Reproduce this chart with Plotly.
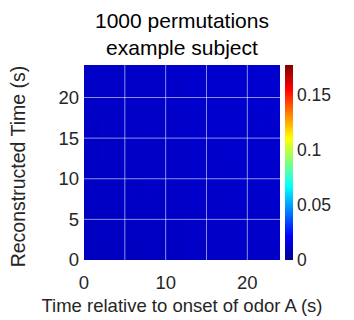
import plotly.graph_objects as go

# ---- data ----
title_lines = ["1000 permutations", "example subject"]
x_label = "Time relative to onset of odor A (s)"
y_label = "Reconstructed Time (s)"

time_bins = [0.5 + i for i in range(24)]  # bin centres (s)
x_tick_vals = [0, 5, 10, 15, 20]
x_tick_text = ["0", "", "10", "", "20"]
y_tick_vals = [0, 5, 10, 15, 20]
y_tick_text = ["0", "5", "10", "15", "20"]
grid_vals = [5, 10, 15, 20]
cbar_ticks = [0, 0.05, 0.1, 0.15]
cbar_text = ["0", "0.05", "0.1", "0.15"]
c_min, c_max = 0.0, 0.177

# decoding accuracy after permutation, in units of 1e-4
# (rows: reconstructed time bottom->top, cols: true time left->right)
accuracy_e4 = [
    [97, 95, 100, 96, 99, 102, 98, 103, 101, 99, 104, 102, 107, 110, 106, 111, 108, 112, 110, 114, 111, 115, 112, 114],
    [99, 97, 101, 98, 100, 103, 99, 104, 102, 101, 105, 103, 108, 111, 107, 112, 110, 113, 111, 115, 112, 116, 113, 115],
    [101, 98, 103, 99, 102, 104, 101, 105, 103, 102, 106, 104, 109, 112, 108, 113, 111, 114, 112, 116, 113, 117, 114, 116],
    [100, 99, 102, 100, 101, 105, 102, 106, 104, 103, 107, 105, 110, 113, 109, 114, 112, 115, 113, 117, 114, 118, 115, 117],
    [102, 100, 104, 101, 103, 106, 103, 107, 105, 104, 108, 106, 111, 114, 110, 115, 113, 116, 114, 118, 115, 119, 116, 118],
    [103, 101, 105, 102, 104, 107, 104, 108, 106, 105, 109, 107, 112, 115, 111, 116, 114, 117, 115, 119, 116, 120, 117, 119],
    [102, 101, 104, 103, 105, 106, 105, 107, 107, 106, 108, 108, 111, 116, 112, 115, 115, 116, 116, 118, 117, 119, 118, 118],
    [104, 102, 106, 103, 105, 108, 105, 109, 107, 106, 110, 108, 113, 116, 112, 117, 115, 118, 116, 120, 117, 121, 118, 120],
    [105, 103, 107, 104, 106, 109, 106, 110, 108, 107, 111, 109, 114, 117, 113, 118, 116, 119, 117, 121, 118, 122, 119, 121],
    [104, 103, 106, 105, 107, 108, 107, 109, 109, 108, 110, 110, 113, 118, 114, 117, 117, 118, 118, 120, 119, 121, 120, 120],
    [106, 104, 108, 105, 107, 110, 107, 111, 109, 108, 112, 110, 115, 118, 114, 119, 117, 120, 118, 122, 119, 123, 120, 122],
    [105, 104, 107, 106, 108, 109, 108, 110, 110, 109, 111, 111, 114, 119, 115, 118, 118, 119, 119, 121, 120, 122, 121, 121],
    [107, 105, 109, 106, 108, 111, 108, 112, 110, 109, 113, 111, 116, 119, 115, 120, 118, 121, 119, 123, 120, 124, 121, 123],
    [106, 105, 108, 107, 109, 110, 109, 111, 111, 110, 112, 112, 115, 120, 116, 119, 119, 120, 120, 122, 121, 123, 122, 122],
    [108, 106, 110, 107, 109, 112, 109, 113, 111, 110, 114, 112, 117, 120, 116, 121, 119, 122, 120, 124, 121, 125, 122, 124],
    [107, 106, 109, 108, 110, 111, 110, 112, 112, 111, 113, 113, 116, 121, 117, 120, 120, 121, 121, 123, 122, 124, 123, 123],
    [109, 107, 111, 108, 110, 113, 110, 114, 112, 111, 115, 113, 118, 121, 117, 122, 120, 123, 121, 125, 122, 126, 123, 125],
    [108, 107, 110, 109, 111, 112, 111, 113, 113, 112, 114, 114, 117, 122, 118, 121, 121, 122, 122, 124, 123, 125, 124, 124],
    [109, 108, 111, 109, 111, 113, 111, 114, 113, 112, 115, 114, 118, 122, 118, 122, 121, 123, 122, 125, 123, 126, 124, 125],
    [110, 108, 112, 110, 112, 114, 112, 115, 114, 113, 116, 115, 119, 123, 119, 123, 122, 124, 123, 126, 124, 127, 125, 126],
    [109, 108, 111, 110, 111, 113, 112, 114, 114, 113, 115, 115, 118, 123, 119, 122, 122, 123, 123, 125, 124, 126, 125, 125],
    [111, 109, 113, 110, 112, 115, 112, 116, 114, 113, 117, 115, 120, 123, 119, 124, 122, 125, 123, 127, 124, 128, 125, 127],
    [110, 109, 112, 111, 113, 114, 113, 115, 115, 114, 116, 116, 119, 124, 120, 123, 123, 124, 124, 126, 125, 127, 126, 126],
    [111, 110, 113, 111, 113, 115, 113, 116, 115, 114, 117, 116, 120, 124, 120, 124, 123, 125, 124, 127, 125, 128, 126, 127],
]
accuracy = [[v / 1e4 for v in row] for row in accuracy_e4]

# MATLAB-style jet colormap
jet = [
    [0.0, "rgb(0,0,143)"],
    [0.125, "rgb(0,0,255)"],
    [0.375, "rgb(0,255,255)"],
    [0.625, "rgb(255,255,0)"],
    [0.875, "rgb(255,0,0)"],
    [1.0, "rgb(128,0,0)"],
]

FONT = "Liberation Sans, Arial, sans-serif"
TXT = "#262626"

fig = go.Figure()
fig.add_trace(go.Heatmap(
    x=time_bins, y=time_bins, z=accuracy,
    colorscale=jet, zmin=c_min, zmax=c_max,
    colorbar=dict(
        x=1.025, xanchor="left", xpad=0, ypad=0,
        y=0.5, yanchor="middle", len=1.0, lenmode="fraction",
        thickness=8, outlinewidth=0,
        tickvals=cbar_ticks, ticktext=cbar_text,
        ticks="", ticklabelposition="outside",
        tickfont=dict(family=FONT, size=17.5, color=TXT),
    ),
    hoverinfo="skip",
))

shapes = []
for g in grid_vals:
    shapes.append(dict(type="line", xref="x", yref="paper", x0=g, x1=g, y0=0, y1=1,
                       line=dict(color="rgba(255,255,255,0.55)", width=1), layer="above"))
    shapes.append(dict(type="line", xref="paper", yref="y", x0=0, x1=1, y0=g, y1=g,
                       line=dict(color="rgba(255,255,255,0.55)", width=1), layer="above"))

fig.update_layout(
    width=346, height=312,
    margin=dict(l=76, r=74, t=57, b=60, autoexpand=False),
    paper_bgcolor="white", plot_bgcolor="white",
    annotations=[
        dict(
            text="<br>".join(title_lines), xref="paper", yref="paper",
            x=0.5, xanchor="center", y=1, yanchor="bottom", yshift=5, borderpad=0,
            showarrow=False, font=dict(family=FONT, size=21, color="black"),
        ),
        dict(
            text=y_label, xref="paper", yref="paper", textangle=-90,
            x=-0.337, xanchor="center", y=0.48, yanchor="middle", borderpad=0,
            showarrow=False, font=dict(family=FONT, size=19.5, color=TXT),
        ),
    ],
    xaxis=dict(
        range=[0, 24], tickvals=x_tick_vals, ticktext=x_tick_text,
        showgrid=False, zeroline=False, showline=False, ticks="",
        ticklabelstandoff=9,
        tickfont=dict(family=FONT, size=18.5, color=TXT),
        title=dict(text=x_label, standoff=7, font=dict(family=FONT, size=18.5, color=TXT)),
    ),
    yaxis=dict(
        range=[0, 24], tickvals=y_tick_vals, ticktext=y_tick_text,
        showgrid=False, zeroline=False, showline=False, ticks="",
        ticklabelstandoff=4,
        tickfont=dict(family=FONT, size=18.5, color=TXT),
    ),
    shapes=shapes,
)

fig.write_html("out.html")
